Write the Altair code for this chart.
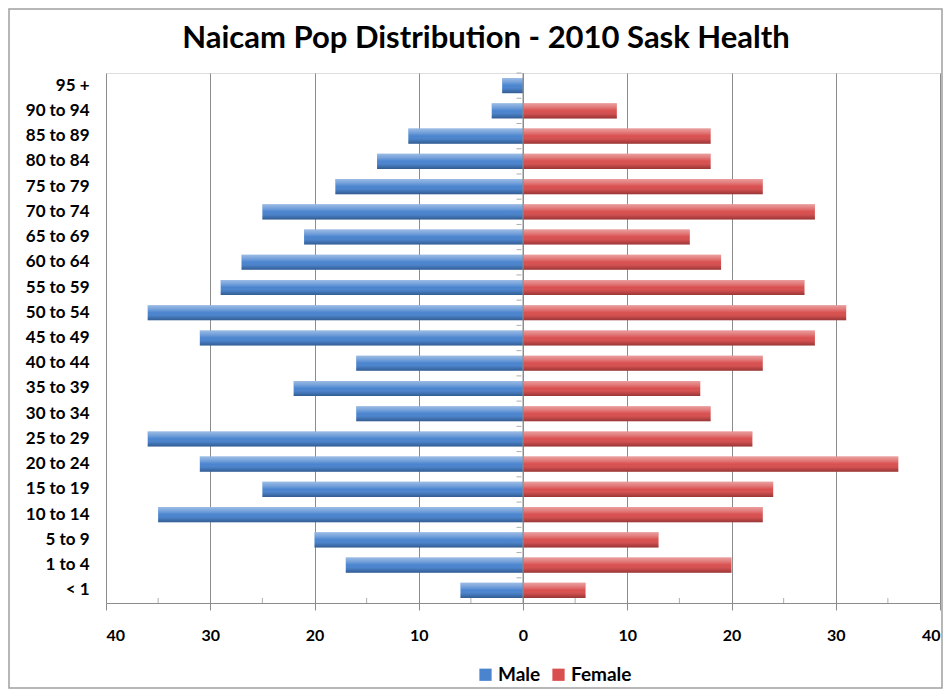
import altair as alt
import pandas as pd

ages = ["95 +", "90 to 94", "85 to 89", "80 to 84", "75 to 79", "70 to 74", "65 to 69",
        "60 to 64", "55 to 59", "50 to 54", "45 to 49", "40 to 44", "35 to 39", "30 to 34",
        "25 to 29", "20 to 24", "15 to 19", "10 to 14", "5 to 9", "1 to 4", "< 1"]
male = [2, 3, 11, 14, 18, 25, 21, 27, 29, 36, 31, 16, 22, 16, 36, 31, 25, 35, 20, 17, 6]
female = [0, 9, 18, 18, 23, 28, 16, 19, 27, 31, 28, 23, 17, 18, 22, 36, 24, 23, 13, 20, 6]
minor_ticks = [-35, -25, -15, -5, 5, 15, 25, 35]

rows = []
for a, m, f in zip(ages, male, female):
    rows.append({"age": a, "sex": "Male", "count": m})
    rows.append({"age": a, "sex": "Female", "count": f})
df = pd.DataFrame(rows)

FONT = "Lato"
W, H = 834, 530
GRAY = "#8c8c8c"

base = alt.Chart(df).transform_calculate(
    val="datum.sex == 'Male' ? -datum.count : datum.count"
)

x_enc = alt.X("val:Q", scale=alt.Scale(domain=[-40, 40], nice=False),
              axis=alt.Axis(values=list(range(-40, 41, 10)), labelExpr="abs(datum.value)",
                            title=None, grid=True, gridColor=GRAY, tickColor=GRAY,
                            domainColor=GRAY, tickSize=7, labelPadding=17,
                            labelFont=FONT, labelFontSize=16, labelFontWeight="bold",
                            labelColor="black"))
y_enc = alt.Y("age:N", sort=ages,
              scale=alt.Scale(paddingInner=0.4, paddingOuter=0.2),
              axis=alt.Axis(title=None, ticks=False, domain=False, labelPadding=17,
                            labelFont=FONT, labelFontSize=17, labelFontWeight="bold",
                            labelColor="black"))

bars = base.mark_bar().encode(
    x=x_enc,
    x2=alt.datum(0),
    y=y_enc,
    color=alt.Color("sex:N", scale=alt.Scale(domain=["Male", "Female"], range=["#4a84cf", "#d94f4f"]),
                    legend=alt.Legend(title=None, orient="none", legendX=370, legendY=592,
                                      direction="horizontal",
                                      labelFont=FONT, labelFontSize=19, labelFontWeight="bold",
                                      labelColor="black", symbolType="square", symbolSize=150,
                                      columnPadding=8, symbolStrokeWidth=0, labelOffset=3)),
)

shade = base.mark_bar(
    fill={"gradient": "linear", "x1": 0, "y1": 0, "x2": 0, "y2": 1,
          "stops": [{"offset": 0, "color": "rgba(255,255,255,0.45)"},
                    {"offset": 0.25, "color": "rgba(255,255,255,0.25)"},
                    {"offset": 0.5, "color": "rgba(255,255,255,0.0)"},
                    {"offset": 0.8, "color": "rgba(0,0,0,0.12)"},
                    {"offset": 1, "color": "rgba(0,0,0,0.3)"}]}
).encode(x="val:Q", x2=alt.datum(0), y=alt.Y("age:N", sort=ages))

center = alt.Chart(pd.DataFrame({"z": [0]})).mark_rule(color=GRAY).encode(x="z:Q")

cat_ticks = alt.Chart(pd.DataFrame({"age": ages})).mark_tick(
    orient="horizontal", size=5, thickness=1, color=GRAY, xOffset=-4, yOffset=-12.6
).encode(y=alt.Y("age:N", sort=ages), x=alt.datum(0))

minor = alt.Chart(pd.DataFrame({"t": minor_ticks})).mark_tick(
    orient="vertical", size=5, thickness=1, color=GRAY
).encode(x="t:Q", y=alt.value(H - 2.5))

border = alt.Chart(pd.DataFrame({"z": [0]})).mark_rect(
    fill=None, stroke="#a0a0a0", strokeWidth=1.5
).encode(x=alt.value(-97), x2=alt.value(836), y=alt.value(-64), y2=alt.value(615))

chart = alt.layer(bars, shade, center, cat_ticks, minor, border).properties(
    width=W, height=H,
    title=alt.TitleParams("Naicam Pop Distribution - 2010 Sask Health", font=FONT,
                          fontSize=31, fontWeight="bold", color="black", dx=-37, dy=47, offset=0),
    autosize=alt.AutoSizeParams(type="none"),
    padding={"left": 98, "top": 65, "right": 4, "bottom": 86},
).configure_view(stroke=GRAY).configure(background="white")

chart.save("out.html", embed_options={"renderer": "svg", "actions": False})
